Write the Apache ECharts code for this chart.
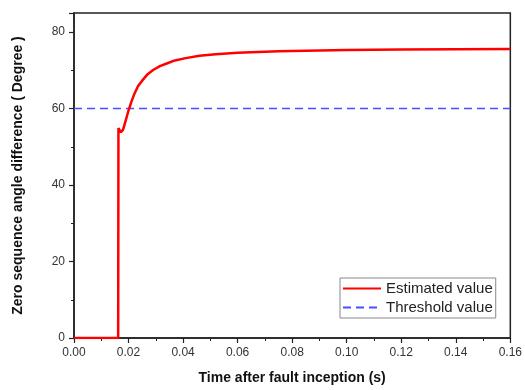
<!DOCTYPE html>
<html>
<head>
<meta charset="utf-8">
<script src="https://cdn.jsdelivr.net/npm/echarts@6/dist/echarts.min.js"></script>
<style>
  html, body { margin: 0; padding: 0; background: #fff; }
  #chart { width: 525px; height: 390px; }
</style>
</head>
<body>
<div id="chart"></div>
<script>
// time after fault inception (s)
const times = [0, 0.0162, 0.0163, 0.0167, 0.0172, 0.0180, 0.0190, 0.0200, 0.0210, 0.0220,
  0.0235, 0.0250, 0.0270, 0.0290, 0.0315, 0.0340, 0.0370, 0.0410, 0.0460, 0.0520,
  0.0600, 0.0750, 0.0900, 0.1000, 0.1200, 0.1400, 0.1600];
// estimated angle difference (degree)
const estimated = [0, 0, 54.9, 54.4, 53.8, 54.5, 57.0, 59.5, 61.7, 63.6,
  65.9, 67.3, 69.0, 70.1, 71.1, 71.8, 72.6, 73.2, 73.8, 74.2,
  74.6, 75.0, 75.2, 75.3, 75.45, 75.55, 75.6];
const thresholdTimes = [0, 0.16];
const thresholdValue = 60;

const font = "Liberation Sans, Arial, sans-serif";

const option = {
  animation: false,
  grid: { left: 74, right: 13, top: 13, bottom: 52, show: true, borderColor: "#222", borderWidth: 1.5 },
  legend: {
    left: 340,
    top: 278,
    orient: "vertical",
    itemWidth: 38,
    itemHeight: 10,
    itemGap: 4,
    padding: [3, 3, 3, 2],
    borderColor: "#888",
    borderWidth: 1,
    itemStyle: { opacity: 0 },
    textStyle: { fontFamily: font, fontSize: 15, color: "#222" },
    data: ["Estimated value", "Threshold value"],
  },
  xAxis: {
    type: "value",
    min: 0,
    max: 0.16,
    interval: 0.02,
    name: "Time after fault inception (s)",
    nameLocation: "middle",
    nameGap: 33,
    nameTextStyle: { fontFamily: font, fontSize: 14, fontWeight: "bold", color: "#111" },
    axisLine: { lineStyle: { color: "#222", width: 1.5 } },
    axisTick: { length: 5, lineStyle: { color: "#222", width: 1.2 } },
    minorTick: { show: true, splitNumber: 2, length: 3, lineStyle: { color: "#222" } },
    axisLabel: {
      margin: 9,
      fontFamily: font,
      fontSize: 12,
      color: "#333",
      formatter: v => v.toFixed(2),
    },
    splitLine: { show: false },
  },
  yAxis: {
    type: "value",
    min: 0,
    max: 85,
    interval: 20,
    name: "Zero sequence angle difference ( Degree )",
    nameLocation: "middle",
    nameGap: 49,
    nameTextStyle: { fontFamily: font, fontSize: 14, fontWeight: "bold", color: "#111" },
    axisLine: { lineStyle: { color: "#222", width: 1.5 } },
    axisTick: { length: 5, lineStyle: { color: "#222", width: 1.2 } },
    minorTick: { show: true, splitNumber: 2, length: 3, lineStyle: { color: "#222" } },
    axisLabel: {
      margin: 9,
      fontFamily: font,
      fontSize: 12,
      color: "#333",
      showMaxLabel: false,
    },
    splitLine: { show: false },
  },
  series: [
    {
      name: "Estimated value",
      type: "line",
      symbol: "none",
      z: 3,
      data: times.map((t, i) => [t, estimated[i]]),
      lineStyle: { color: "#ff0000", width: 2.5 },
      itemStyle: { color: "#ff0000" },
    },
    {
      name: "Threshold value",
      type: "line",
      symbol: "none",
      z: 2,
      data: thresholdTimes.map(t => [t, thresholdValue]),
      lineStyle: { color: "#4d4dff", width: 1.5, type: [8, 5] },
      itemStyle: { color: "#4d4dff" },
    },
  ],
};

const myChart = echarts.init(document.getElementById("chart"), null, { renderer: "canvas" });
myChart.setOption(option);
</script>
</body>
</html>
